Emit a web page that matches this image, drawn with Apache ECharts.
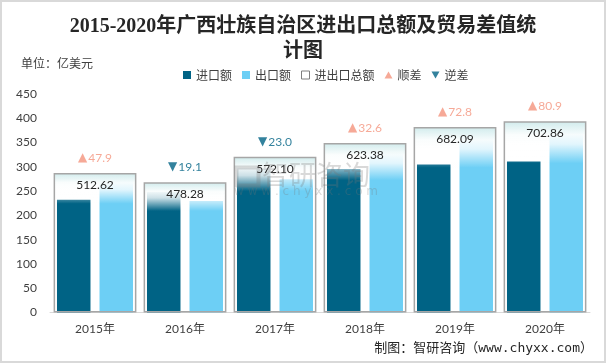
<!DOCTYPE html>
<html>
<head>
<meta charset="utf-8">
<script src="https://cdn.jsdelivr.net/npm/echarts@6/dist/echarts.min.js"></script>
<style>
html,body{margin:0;padding:0;background:#fff;}
#c{width:606px;height:363px;}
</style>
</head>
<body>
<div id="c"></div>
<script>
var years = ['2015年','2016年','2017年','2018年','2019年','2020年'];
var importVals = [232.36, 248.69, 297.55, 295.39, 304.65, 310.98];
var exportVals = [280.26, 229.59, 274.55, 327.99, 377.44, 391.88];
var totalVals = [512.62, 478.28, 572.10, 623.38, 682.09, 702.86];
var diffVals = [47.9, -19.1, -23.0, 32.6, 72.8, 80.9];
var yTicks = [0, 50, 100, 150, 200, 250, 300, 350, 400, 450];

var C_IMP = '#006385', C_EXP = '#6DCFF5', C_UP = '#F4937D', C_DOWN = '#006385';
var FONT = "Lato, 'Noto Sans CJK SC', sans-serif";
var CJK = "'Noto Sans CJK SC', sans-serif";

var chart = echarts.init(document.getElementById('c'), null, {renderer:'canvas'});

var surplusData = years.map(function(y,i){ return diffVals[i] > 0 ? totalVals[i] : '-'; });
var deficitData = years.map(function(y,i){ return diffVals[i] < 0 ? totalVals[i] : '-'; });

function diffLabel(sym, color){
  return {
    show:true, position:'top', distance:9,
    formatter:function(p){ return '{a|'+sym+'}{b|'+Math.abs(diffVals[p.dataIndex]).toFixed(1)+'}'; },
    rich:{
      a:{color:color, fontSize:12, fontFamily:'DejaVu Sans', padding:[0,1,0,0]},
      b:{color:color, fontSize:12, fontFamily:FONT}
    }
  };
}

chart.setOption({
  animation:false,
  title:{
    text:'2015-2020年广西壮族自治区进出口总额及贸易差值统\n计图',
    left:'center', top:9,
    textStyle:{fontSize:20, fontWeight:'bold', lineHeight:25, color:'#262626',
      fontFamily:"'Liberation Serif', 'Noto Sans CJK SC', serif"}
  },
  legend:{
    left:178, top:64, itemWidth:8, itemHeight:8, itemGap:10,
    textStyle:{fontSize:12, color:'#404040', fontFamily:CJK},
    data:[
      {name:'进口额', icon:'rect'},
      {name:'出口额', icon:'rect'},
      {name:'进出口总额', icon:'rect', itemStyle:{color:'#fff', borderColor:'#7f7f7f', borderWidth:1}},
      {name:'顺差', icon:'path://M5,0L10,9L0,9Z', itemStyle:{color:C_UP}},
      {name:'逆差', icon:'path://M0,0L10,0L5,9Z', itemStyle:{color:C_DOWN}}
    ]
  },
  grid:{left:50, right:16, top:94, bottom:50.5},
  xAxis:[
    {type:'category', data:years,
     axisLine:{lineStyle:{color:'#d9d9d9', width:1}}, axisTick:{show:false},
     axisLabel:{fontSize:12, color:'#404040', fontFamily:FONT, margin:11}},
    {type:'category', data:years, show:false}
  ],
  yAxis:[
    {type:'value', min:0, max:450, interval:50,
     axisLine:{show:false}, axisTick:{show:false}, splitLine:{show:false},
     axisLabel:{fontSize:12, color:'#404040', fontFamily:FONT, margin:13,
       formatter:function(v){ return yTicks.indexOf(v) >= 0 ? String(v) : ''; }}},
    {type:'value', min:0, max:803, show:false}
  ],
  series:[
    {name:'进口额', type:'bar', xAxisIndex:0, yAxisIndex:0, data:importVals,
     barWidth:33.5, barGap:'27%', itemStyle:{color:C_IMP}, z:2},
    {name:'出口额', type:'bar', xAxisIndex:0, yAxisIndex:0, data:exportVals,
     barWidth:33.5, barGap:'27%', itemStyle:{color:C_EXP}, z:2},
    {name:'进出口总额', type:'bar', xAxisIndex:1, yAxisIndex:1, data:totalVals,
     barWidth:'92%', z:3,
     itemStyle:{
       borderColor:'#a6a6a6', borderWidth:1.5,
       color:{type:'linear', x:0, y:0, x2:0, y2:1, colorStops:[
         {offset:0, color:'rgba(208,235,236,1)'},
         {offset:0.07, color:'rgba(250,253,253,0.97)'},
         {offset:0.12, color:'rgba(255,255,255,0.8)'},
         {offset:0.22, color:'rgba(255,255,255,0)'},
         {offset:1, color:'rgba(255,255,255,0)'}]}
     },
     label:{show:true, position:'insideTop', distance:6, fontSize:12, color:'#262626', fontFamily:FONT,
       formatter:function(p){ return totalVals[p.dataIndex].toFixed(2); }}
    },
    {name:'顺差', type:'scatter', xAxisIndex:1, yAxisIndex:1, data:surplusData,
     symbolSize:0, itemStyle:{color:C_UP}, z:5, label:diffLabel('▲', C_UP)},
    {name:'逆差', type:'scatter', xAxisIndex:1, yAxisIndex:1, data:deficitData,
     symbolSize:0, itemStyle:{color:C_DOWN}, z:5, label:diffLabel('▼', C_DOWN)}
  ],
  graphic:[
    {type:'rect', z:100, shape:{x:1, y:1, width:604, height:361},
     style:{fill:'none', stroke:'#d9d9d9', lineWidth:2}, silent:true},
    {type:'text', left:21, top:57, z:100,
     style:{text:'单位：亿美元', fontSize:12, fill:'#404040', fontFamily:CJK}},
    {type:'text', right:13, top:342, z:100,
     style:{text:'制图：智研咨询（www.chyxx.com）', fontSize:13, fill:'#262626',
       fontFamily:"'DejaVu Sans Mono', 'Noto Sans CJK SC', monospace"}},
    {type:'text', left:262, top:161, z:50,
     style:{text:'智研咨询', fontSize:27, fill:'rgba(120,120,120,0.28)', fontFamily:CJK}},
    {type:'rect', left:234, top:165, z:50, shape:{width:22, height:18},
     style:{fill:'none', stroke:'rgba(120,120,120,0.28)', lineWidth:4}},
    {type:'text', left:234, top:186, z:50,
     style:{text:'w w w . c h y x x . c o m', fontSize:12, fill:'rgba(120,120,120,0.28)', fontFamily:"'DejaVu Sans', sans-serif"}}
  ]
});
</script>
</body>
</html>
